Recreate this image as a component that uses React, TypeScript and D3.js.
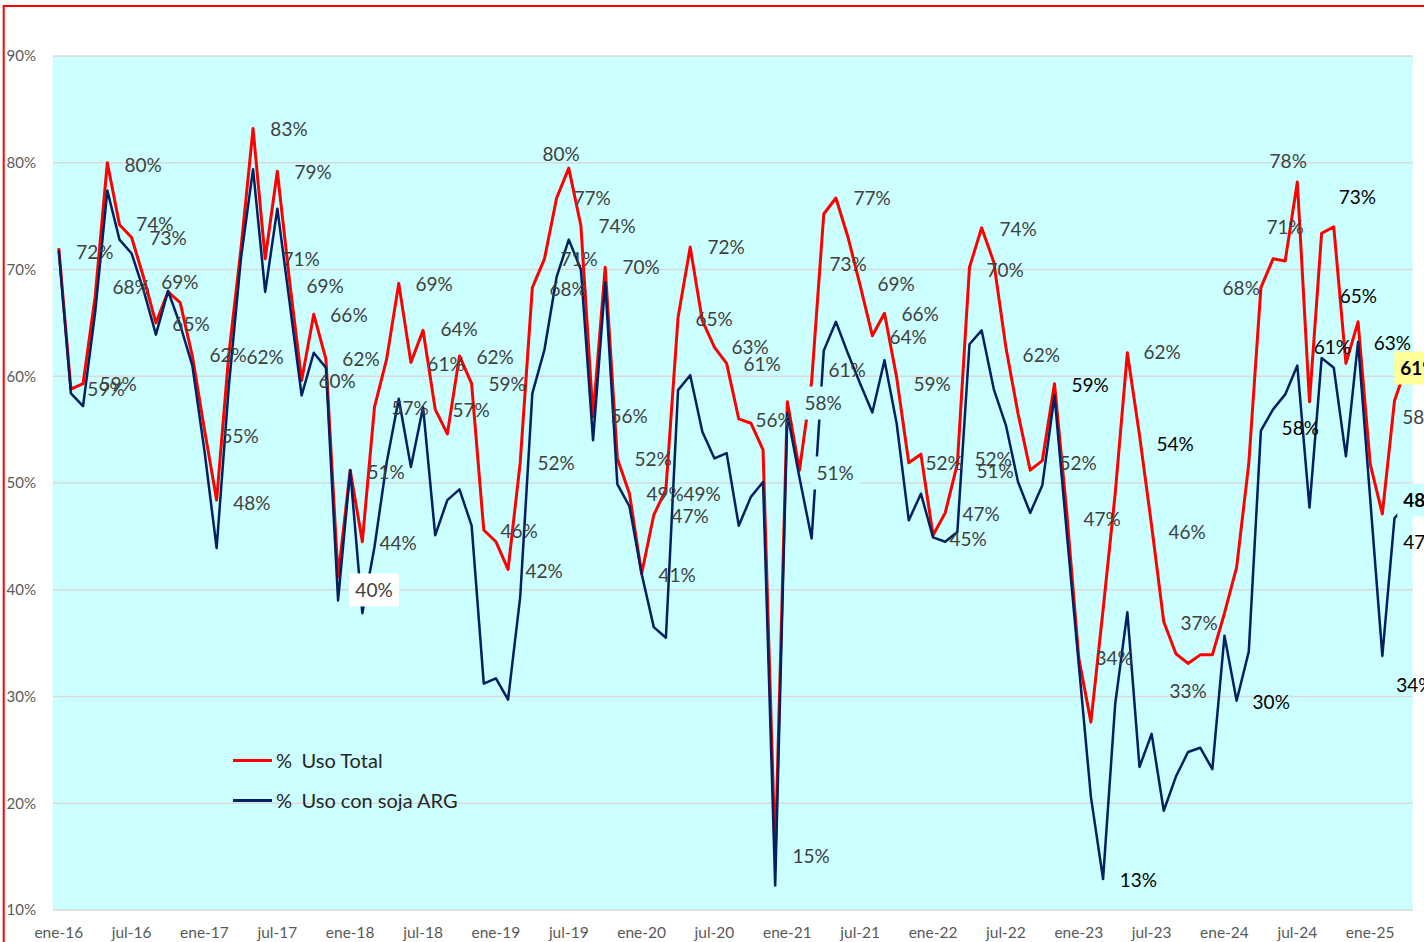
import React from "react";
import * as d3 from "d3";

// % Uso Total (monthly, ene-16 .. abr-25)
const usoTotal = [
  72, 58.8, 59.3, 67.5, 80, 74.2, 73.0, 69.2, 65.0, 67.9, 66.9, 61.9,
  55, 48.4, 62, 71.9, 83.2, 71.0, 79.2, 69, 59.6, 65.8, 61.6, 41.2,
  51.2, 44.5, 57.1, 61.6, 68.7, 61.3, 64.3, 56.9, 54.6, 61.9, 59.3, 45.6,
  44.5, 41.9, 51.9, 68.3, 71.0, 76.7, 79.5, 74.1, 56.2, 70.2, 52.3, 49.0,
  41.5, 47.0, 49.4, 65.5, 72.1, 65.2, 62.7, 61.2, 56.0, 55.6, 53.1, 15,
  57.6, 51.2, 59.5, 75.2, 76.7, 73.0, 68.5, 63.8, 65.9, 59.9, 51.9, 52.7,
  45.1, 47.2, 51.8, 70.2, 73.9, 70.7, 62.7, 56.5, 51.2, 52.1, 59.3, 47.4,
  33.6, 27.6, 38.1, 49, 62.2, 54.5, 46, 37.0, 34.0, 33.1, 33.9, 33.9,
  37.8, 42.1, 51.8, 68.3, 71.0, 70.8, 78.2, 57.6, 73.4, 74.0, 61.2, 65.1,
  51.8, 47.1, 57.7, 61,
];

// % Uso con soja ARG
const usoSojaArg = [
  71.8, 58.4, 57.2, 66, 77.4, 72.8, 71.5, 68, 63.9, 68, 64.8, 61.0,
  53, 43.9, 59, 71.0, 79.4, 67.9, 75.7, 67, 58.2, 62.2, 60.8, 39.0,
  51.2, 37.8, 44, 51.9, 57.9, 51.5, 57.1, 45.1, 48.4, 49.4, 46.0, 31.2,
  31.7, 29.7, 39.3, 58.4, 62.5, 69.3, 72.8, 70.0, 54.0, 68.8, 49.9, 47.8,
  41.5, 36.5, 35.5, 58.7, 60.1, 54.8, 52.3, 52.8, 46.0, 48.7, 50.1, 12.3,
  56.5, 50.5, 44.8, 62.4, 65.1, 62.1, 59.3, 56.6, 61.5, 55.6, 46.5, 49.0,
  44.9, 44.5, 45.4, 63.0, 64.3, 58.8, 55.4, 50.1, 47.2, 49.8, 58.2, 45.5,
  33, 20.6, 12.9, 29.3, 37.9, 23.4, 26.5, 19.3, 22.5, 24.8, 25.2, 23.2,
  35.7, 29.6, 34.2, 54.9, 56.9, 58.3, 61.0, 47.7, 61.7, 60.8, 52.5, 63.2,
  48.5, 33.8, 46.7, 48,
];

const xTickLabels = [
  "ene-16", "jul-16", "ene-17", "jul-17", "ene-18", "jul-18", "ene-19",
  "jul-19", "ene-20", "jul-20", "ene-21", "jul-21", "ene-22", "jul-22",
  "ene-23", "jul-23", "ene-24", "jul-24", "ene-25",
];
const monthsPerTick = 6;
const yTicks = [10, 20, 30, 40, 50, 60, 70, 80, 90];

const seriesNames = ["%  Uso Total", "%  Uso con soja ARG"];

// data labels: text, anchor month (fractional), anchor value (%)
const labelTexts = [
  "72%", "80%", "74%", "73%", "68%", "69%", "59%", "59%", "65%", "62%",
  "62%", "55%", "48%", "83%", "79%", "71%", "69%", "66%", "60%", "62%",
  "40%", "51%", "44%", "57%", "69%", "61%", "64%", "57%", "62%", "59%",
  "46%", "52%", "42%", "80%", "77%", "74%", "71%", "68%", "70%", "56%",
  "52%", "49%", "49%", "47%", "41%", "72%", "65%", "63%", "61%", "56%",
  "15%", "58%", "51%", "77%", "73%", "61%", "69%", "66%", "64%", "59%",
  "52%", "52%", "51%", "47%", "45%", "74%", "70%", "62%", "52%", "59%",
  "47%", "34%", "13%", "62%", "54%", "46%", "37%", "33%", "30%", "68%",
  "71%", "78%", "73%", "65%", "61%", "58%", "63%", "61%", "58%", "48%",
  "47%", "34%",
];
const labelMonths = [
  2.98, 6.94, 7.92, 9.0, 5.95, 9.98, 3.89, 4.88, 10.89, 13.94,
  16.99, 14.93, 15.91, 18.96, 20.94, 19.95, 21.93, 23.9, 22.92, 24.89,
  25.96, 26.95, 27.94, 28.93, 30.91, 31.89, 32.97, 33.95, 35.93, 36.92,
  37.91, 40.96, 39.97, 41.37, 43.92, 45.98, 42.85, 41.94, 47.96, 46.97,
  48.95, 49.93, 52.98, 51.99, 50.92, 54.96, 53.97, 56.94, 57.92, 58.91,
  61.96, 62.95, 63.94, 66.98, 65.01, 64.93, 68.96, 70.94, 69.95, 71.93,
  72.92, 76.95, 77.12, 75.96, 74.89, 79.01, 77.94, 80.91, 83.95, 84.94,
  85.93, 86.92, 88.9, 90.87, 91.94, 92.93, 93.92, 93.01, 99.85, 97.38,
  101.0, 101.25, 106.94, 107.02, 104.88, 102.24, 109.82, 110.48, 110.64, 110.72,
  110.72, 110.15,
];
const labelValues = [
  71.64, 79.79, 74.26, 72.95, 68.36, 68.83, 58.81, 59.27, 64.89, 61.99,
  61.8, 54.4, 48.13, 83.16, 79.13, 70.98, 68.45, 65.74, 59.56, 61.62,
  39.98, 51.03, 44.38, 57.03, 68.64, 61.15, 64.43, 56.84, 61.8, 59.27,
  45.5, 51.87, 41.76, 80.82, 76.7, 74.08, 70.98, 68.17, 70.23, 56.28,
  52.25, 48.97, 48.97, 46.91, 41.38, 72.11, 65.36, 62.74, 61.15, 55.9,
  15.06, 57.49, 50.94, 76.7, 70.52, 60.59, 68.64, 65.83, 63.68, 59.27,
  51.87, 52.25, 51.12, 47.1, 44.75, 73.79, 69.95, 61.99, 51.87, 59.18,
  46.63, 33.61, 12.81, 62.27, 53.65, 45.41, 36.89, 30.52, 29.48, 68.27,
  73.98, 80.16, 76.79, 67.52, 62.74, 55.15, 63.11, 60.77, 56.18, 48.41,
  44.47, 31.08,
];
// label indices with special presentation
const blackLabels = new Set([69, 72, 74, 78, 82, 83, 84, 85, 86, 87, 89, 90, 91]);
const boldLabels = new Set([87, 89]);
const startAnchored = new Set([87, 88, 89, 90, 91]);
const boxFill: Record<number, string> = { 20: "#FFFFFF", 51: "#CCFFFF", 52: "#CCFFFF", 87: "#FFFF99", 89: "#CCFFFF" };

export default function App() {
  const W = 1424;
  const H = 942;
  const n = usoTotal.length;
  const x = d3.scaleLinear().domain([-0.5, n - 0.5]).range([52.7, 1412.7]);
  const y = d3.scaleLinear().domain([10, 90]).range([910, 56]);
  const line = d3
    .line<number>()
    .x((_, i) => x(i))
    .y((d) => y(d));

  const font = "Lato, Carlito, 'Open Sans', sans-serif";

  return (
    <svg
      width={W}
      height={H}
      viewBox={`0 0 ${W} ${H}`}
      style={{ position: "absolute", left: 0, top: 0 }}
      fontFamily={font}
    >
      <rect x={0} y={0} width={W} height={H} fill="#FFFFFF" />
      {/* plot area */}
      <rect x={x(-0.5)} y={y(90)} width={x(n - 0.5) - x(-0.5)} height={y(10) - y(90)} fill="#CCFFFF" />
      {yTicks.map((t) => (
        <line key={t} x1={x(-0.5)} x2={x(n - 0.5)} y1={y(t)} y2={y(t)} stroke="#D9D9D9" strokeWidth={1.5} />
      ))}
      {yTicks.map((t) => (
        <text key={"yt" + t} x={36} y={y(t)} dy="0.35em" textAnchor="end" fontSize={15} fill="#595959">
          {`${t}%`}
        </text>
      ))}
      {xTickLabels.map((l, i) => (
        <text key={l} x={x(i * monthsPerTick)} y={933} dy="0.35em" textAnchor="middle" fontSize={15.5} fill="#595959">
          {l}
        </text>
      ))}

      {/* series */}
      <path d={line(usoTotal) || ""} fill="none" stroke="#FF0000" strokeWidth={3} strokeLinejoin="round" />
      <path d={line(usoSojaArg) || ""} fill="none" stroke="#002060" strokeWidth={2.5} strokeLinejoin="round" />

      {/* legend */}
      {seriesNames.map((s, i) => {
        const ly = 760.5 + i * 40;
        const [sym, ...rest] = s.split("  ");
        return (
          <g key={s}>
            <line x1={233} x2={272} y1={ly} y2={ly} stroke={i === 0 ? "#FF0000" : "#002060"} strokeWidth={3} />
            <text x={276} y={ly} dy="0.35em" fontSize={20} fill="#262626">{sym}</text>
            <text x={301.5} y={ly} dy="0.35em" fontSize={20} fill="#262626">{rest.join("  ")}</text>
          </g>
        );
      })}

      {/* data labels */}
      {labelTexts.map((t, i) => {
        const lx = x(labelMonths[i]);
        const ly = y(labelValues[i]);
        const start = startAnchored.has(i);
        const bx = start ? lx - 6 : lx - 25;
        return (
          <g key={"lb" + i}>
            {boxFill[i] && <rect x={bx} y={ly - 16.5} width={start ? 60 : 50} height={33} fill={boxFill[i]} />}
            <text
              x={lx}
              y={ly}
              dy="0.35em"
              textAnchor={start ? "start" : "middle"}
              fontSize={19}
              fontWeight={boldLabels.has(i) ? 700 : 400}
              fill={blackLabels.has(i) ? "#000000" : "#404040"}
            >
              {t}
            </text>
          </g>
        );
      })}

      {/* outer frame */}
      <rect x={3.7} y={6} width={W + 20} height={H + 20} fill="none" stroke="#FF0000" strokeWidth={2} />
    </svg>
  );
}
